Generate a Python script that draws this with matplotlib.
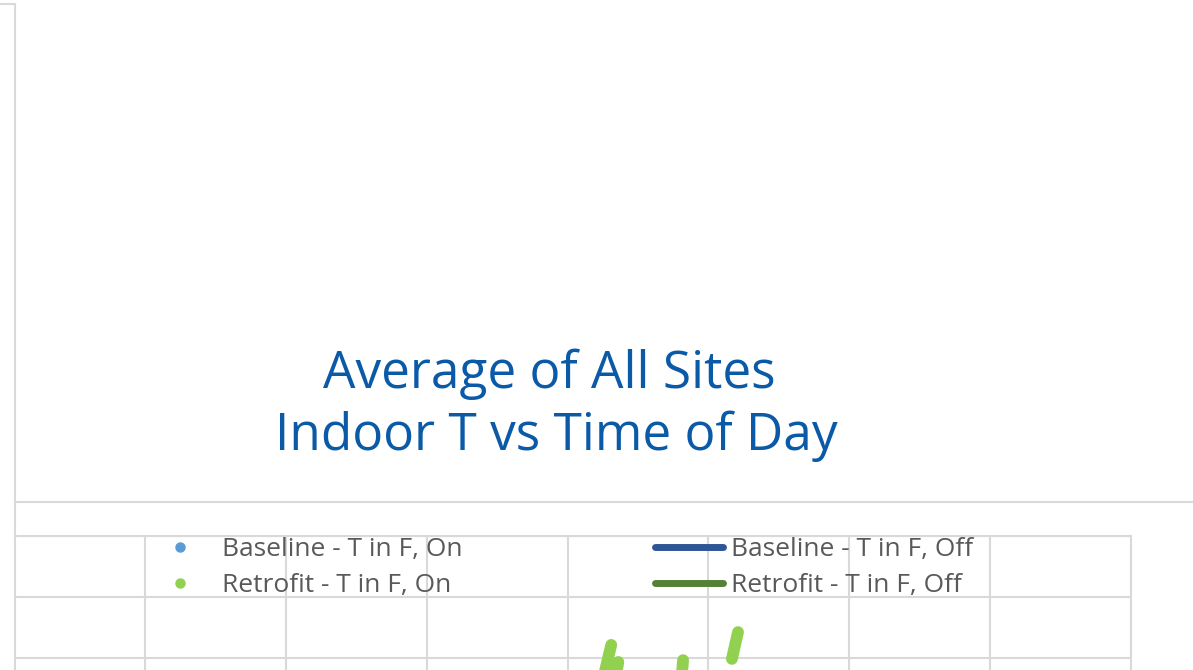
import numpy as np
import matplotlib
matplotlib.use("Agg")
import matplotlib.pyplot as plt
from matplotlib.lines import Line2D

# ---------------- data ----------------
title_lines = ["Average of All Sites ", "Indoor T vs Time of Day"]
series_labels = ["Baseline - T in F, On", "Retrofit - T in F, On",
                 "Baseline - T in F, Off", "Retrofit - T in F, Off"]
hour_ticks = [3, 6, 9, 12, 15, 18, 21, 24]
temp_ticks = [60, 62, 64, 66, 68, 70, 72, 74, 76, 78, 80, 82]

# visible pieces of the "Retrofit - T in F, On" series (NaN separates runs)
nan = np.nan
retro_on_hour = [12.93, 12.65, nan, 13.08, 12.95, nan, 14.46, 14.39, nan, 15.63, 15.50]
retro_on_temp = [78.43, 76.62, nan, 77.87, 76.62, nan, 77.93, 76.62, nan, 78.85, 77.97]
# other series have no visible points in this view
base_on_hour, base_on_temp = [], []
base_off_hour, base_off_temp = [], []
retro_off_hour, retro_off_temp = [], []

# ---------------- style ----------------
W, H = 1193, 670
GRID = "#D9D9D9"
TXT = "#595959"
TITLE = "#0B5AA7"
C_BON, C_RON, C_BOFF, C_ROFF = "#5B9BD5", "#92D050", "#2F5597", "#548235"
FONT = "Open Sans"

plt.rcParams["font.family"] = [FONT, "DejaVu Sans"]

fig = plt.figure(figsize=(W / 100, H / 100), dpi=100)
fig.patch.set_facecolor("white")


def fx(px):
    return px / W


def fy(py):
    return 1 - py / H


# plot area (extends below the visible canvas)
ax_left, ax_right, ax_top, ax_bottom = 15, 1131, 536, 1207
ax = fig.add_axes([fx(ax_left), fy(ax_bottom), (ax_right - ax_left) / W,
                   (ax_bottom - ax_top) / H])
ax.set_xlim(0.231, 24)
ax.set_ylim(60, 82)
ax.set_xticks(hour_ticks)
ax.set_yticks(temp_ticks)
ax.grid(True, color=GRID, linewidth=1.5)
ax.set_axisbelow(True)
ax.tick_params(length=0, labelbottom=False, labelleft=False)
for s in ["left", "bottom"]:
    ax.spines[s].set_visible(False)
for s in ["top", "right"]:
    ax.spines[s].set_color(GRID)
    ax.spines[s].set_linewidth(1.5)

h_bon, = ax.plot(base_on_hour, base_on_temp, "o", color=C_BON, ms=6,
                 label=series_labels[0])
h_ron, = ax.plot(retro_on_hour, retro_on_temp, "-", color=C_RON, lw=8.5,
                 solid_capstyle="round", label=series_labels[1])
h_boff, = ax.plot(base_off_hour, base_off_temp, "-", color=C_BOFF, lw=5,
                  solid_capstyle="round", label=series_labels[2])
h_roff, = ax.plot(retro_off_hour, retro_off_temp, "-", color=C_ROFF, lw=5,
                  solid_capstyle="round", label=series_labels[3])

# chart frame lines
for (x0, y0, x1, y1) in [(15, 4, 15, 670), (0, 4, 15, 4), (15, 502, 1193, 502)]:
    fig.add_artist(Line2D([fx(x0), fx(x1)], [fy(y0), fy(y1)], color=GRID,
                          lw=1.5, transform=fig.transFigure))

# title
fig.text(fx(556), fy(405), "\n".join(title_lines), ha="center", va="center",
         multialignment="center", fontsize=37, color=TITLE, linespacing=1.26)

# legends
fs_pt = 19
fs_px = fs_pt * 100 / 72
leg_kw = dict(frameon=False, fontsize=fs_pt, labelcolor=TXT, borderpad=0,
              borderaxespad=0, handlelength=68 / fs_px, handletextpad=8 / fs_px,
              labelspacing=0.43, loc="upper left")
p_on = Line2D([], [], marker="o", ls="", color=C_BON, ms=6.5)
p_ron = Line2D([], [], marker="o", ls="", color=C_RON, ms=6.5)
leg1 = fig.legend([p_on, p_ron], series_labels[:2],
                  bbox_to_anchor=(fx(146), fy(537)), **leg_kw)
leg2 = fig.legend([h_boff, h_roff], series_labels[2:],
                  bbox_to_anchor=(fx(655), fy(537)), **leg_kw)

fig.savefig("out.png", dpi=100)
